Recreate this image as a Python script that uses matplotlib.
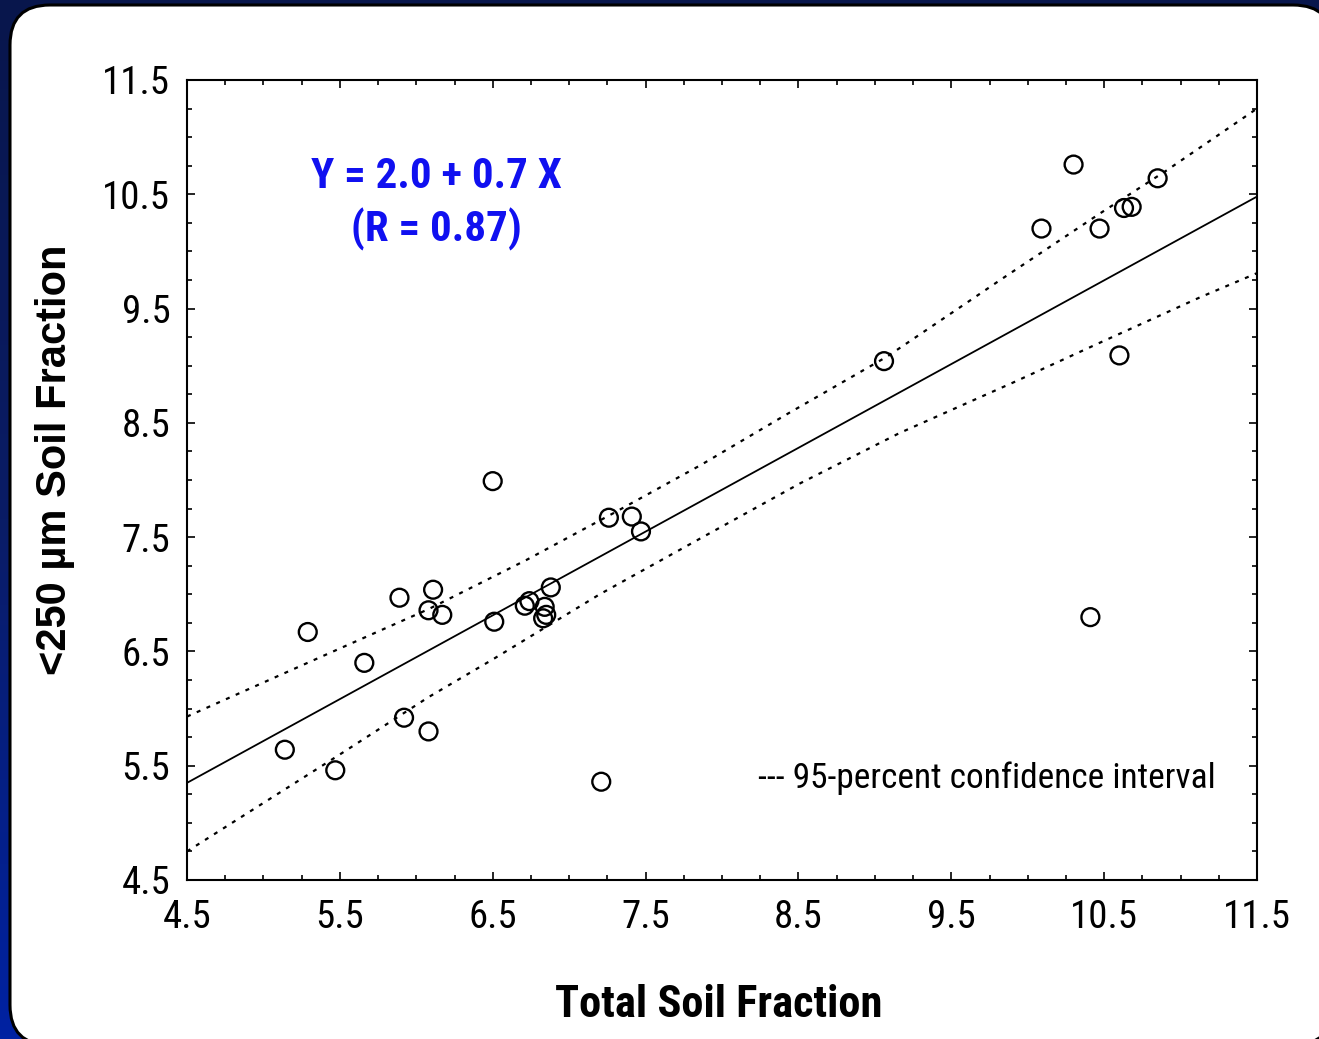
import numpy as np
import matplotlib
matplotlib.use("Agg")
import matplotlib.pyplot as plt
import matplotlib.ticker as mtick
from matplotlib.patches import FancyBboxPatch
from matplotlib.colors import LinearSegmentedColormap

# Dados
total_fraction = [5.14, 5.29, 5.47, 5.66, 5.89, 5.92, 6.08, 6.08, 6.11, 6.17,
                  6.50, 6.51, 6.71, 6.74, 6.84, 6.83, 6.85, 6.88, 7.21, 7.26,
                  7.41, 7.47, 9.06, 10.09, 10.30, 10.47, 10.41, 10.60, 10.63,
                  10.68, 10.85]
fine_fraction = [5.64, 6.67, 5.46, 6.40, 6.97, 5.92, 6.86, 5.80, 7.04, 6.82,
                 7.99, 6.76, 6.90, 6.94, 6.89, 6.79, 6.82, 7.06, 5.36, 7.67,
                 7.68, 7.55, 9.04, 10.20, 10.76, 10.20, 6.80, 9.09, 10.38,
                 10.39, 10.64]

fit_x = [4.5, 11.5]
fit_y = [5.35, 10.48]

upper_x = [4.5, 5.49, 6.08, 6.72, 7.29, 7.86, 8.43, 9.08, 9.60, 9.82, 10.47, 10.91, 11.5]
upper_y = [5.93, 6.52, 6.87, 7.30, 7.71, 8.13, 8.58, 9.08, 9.55, 9.75, 10.33, 10.71, 11.25]
lower_x = [4.5, 5.49, 6.08, 6.50, 7.20, 7.86, 8.51, 9.16, 9.90, 10.47, 11.13, 11.5]
lower_y = [4.75, 5.59, 6.10, 6.43, 7.00, 7.49, 7.97, 8.41, 8.85, 9.20, 9.60, 9.81]

ticks = [4.5, 5.5, 6.5, 7.5, 8.5, 9.5, 10.5, 11.5]
tick_labels = ["4.5", "5.5", "6.5", "7.5", "8.5", "9.5", "10.5", "11.5"]

NARROW = ["Roboto Condensed", "Liberation Sans", "DejaVu Sans"]
plt.rcParams["font.family"] = NARROW

W, H = 1319, 1039
fig = plt.figure(figsize=(W / 100, H / 100), dpi=100)

# Fundo azul com painel branco arredondado
bg = fig.add_axes([0, 0, 1, 1])
bg.set_xlim(0, W)
bg.set_ylim(H, 0)
bg.axis("off")
cmap = LinearSegmentedColormap.from_list("fundo", ["#08164c", "#0a1c66", "#0022a2"])
grad = np.linspace(0, 1, 256).reshape(-1, 1)
bg.imshow(grad, cmap=cmap, extent=[0, W, H, 0], aspect="auto")
painel = FancyBboxPatch((10, 5), 1323, 1040, boxstyle="round,pad=0,rounding_size=40",
                        facecolor="white", edgecolor="black", linewidth=2.2)
bg.add_patch(painel)

# Gráfico principal
ax = fig.add_axes([187 / W, 1 - 880 / H, 1070 / W, 800 / H])
ax.set_facecolor("none")
ax.set_xlim(4.5, 11.5)
ax.set_ylim(4.5, 11.5)

ax.plot(fit_x, fit_y, color="black", linewidth=1.3)
ax.plot(upper_x, upper_y, color="black", linewidth=1.6, linestyle=(0, (1.8, 3)))
ax.plot(lower_x, lower_y, color="black", linewidth=1.6, linestyle=(0, (1.8, 3)))
ax.scatter(total_fraction, fine_fraction, s=165, facecolors="none",
           edgecolors="black", linewidths=1.7, zorder=3)

ax.set_xticks(ticks)
ax.set_xticklabels(tick_labels)
ax.set_yticks(ticks)
ax.set_yticklabels(tick_labels)
ax.xaxis.set_minor_locator(mtick.MultipleLocator(0.25))
ax.yaxis.set_minor_locator(mtick.MultipleLocator(0.25))
ax.tick_params(which="both", direction="in", top=True, right=True, width=1.2)
ax.tick_params(which="major", length=6, labelsize=28)
ax.tick_params(which="minor", length=3.5)
ax.tick_params(axis="x", pad=14)
ax.tick_params(axis="y", pad=12)
for s in ax.spines.values():
    s.set_linewidth(1.5)

ax.text(6.13, 10.66, "Y = 2.0 + 0.7 X", color="#1010f0", fontsize=31,
        fontweight="bold", ha="center", va="center")
ax.text(6.13, 10.19, "(R = 0.87)", color="#1010f0", fontsize=31,
        fontweight="bold", ha="center", va="center")
ax.text(8.235, 5.39, "--- 95-percent confidence interval", fontsize=25.5,
        ha="left", va="center")

fig.text(719 / W, 1 - 1005 / H, "Total Soil Fraction", fontsize=32,
         fontweight="bold", ha="center", va="center")
fig.text(55 / W, 1 - 460 / H, "<250 µm Soil Fraction", fontsize=30,
         fontweight="bold", ha="center", va="center", rotation=90,
         family=["Liberation Sans", "DejaVu Sans"])

fig.savefig("out.png", dpi=100)
